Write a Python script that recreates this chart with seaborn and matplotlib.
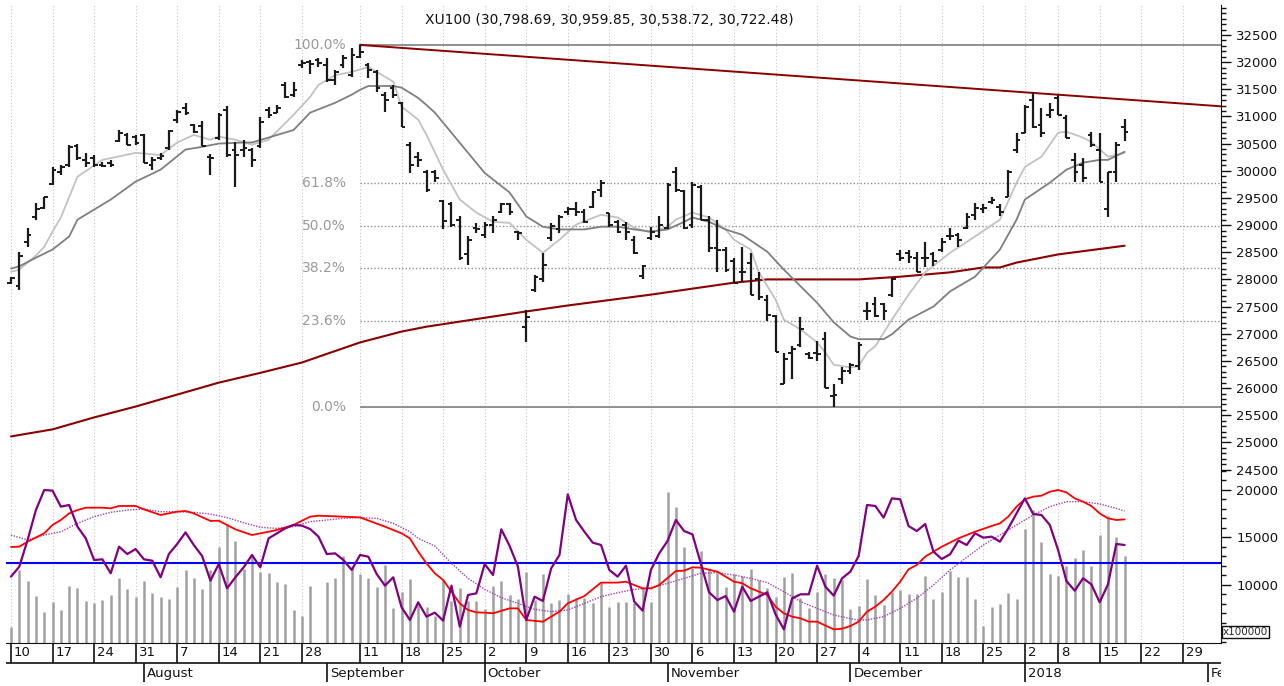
""" XU100 daily bar chart with volume panel """

import numpy as np
import pandas as pd
import matplotlib
matplotlib.use('Agg')
import matplotlib.pyplot as plt
import matplotlib.transforms as mtransforms
from matplotlib.ticker import MultipleLocator, FixedLocator
import seaborn as sns

# ---- data (x = trading-day index, 0 = 10 Jul 2017, 134 = 18 Jan 2018) ----
highs = [28050, 28510, 28950, 29410, 29520, 30060, 30110, 30480, 30500, 30330,
         30290, 30170, 30200, 30750, 30700, 30660, 30680, 30260, 30330, 30750,
         31120, 31250, 30860, 30920, 30310, 31070, 31190, 30530, 30570, 30420,
         30990, 31180, 31210, 31640, 31640, 32040, 32040, 32080, 32080, 31860,
         32130, 32260, 32316, 31980, 31860, 31450, 31580, 31270, 30530, 30350,
         30020, 30020, 29470, 29430, 29160, 28790, 29040, 29060, 29160, 29410,
         29410, 28900, 27430, 28090, 28490, 29040, 29190, 29340, 29430, 29290,
         29620, 29830, 29230, 29100, 29060, 28790, 28270, 28970, 29160, 29780,
         30060, 29650, 29800, 29740, 29160, 29100, 28600, 28400, 28600, 28490,
         28130, 27720, 27350, 26650, 26770, 27300, 26670, 26860, 27040, 26070,
         26380, 26470, 26840, 27590, 27670, 27570, 28030, 28550, 28550, 28510,
         28680, 28510, 28770, 28950, 28860, 29230, 29410, 29380, 29510, 29380,
         30020, 30700, 31210, 31450, 31160, 31250, 31400, 31030, 30330, 30240,
         30720, 30700, 29980, 30530, 30959.85]
lows = [27910, 27810, 28600, 29100, 29290, 29740, 29930, 30070, 30200, 30060,
        30070, 30060, 30070, 30530, 30480, 30480, 30150, 30020, 30200, 30390,
        30880, 31030, 30700, 30460, 29930, 30570, 30260, 29710, 30260, 30070,
        30420, 30980, 31070, 31340, 31360, 31890, 31780, 31910, 31640, 31580,
        31890, 31730, 32080, 31710, 31450, 31080, 31340, 30810, 29960, 30060,
        29600, 29800, 28920, 28970, 28360, 28270, 28860, 28770, 28860, 29230,
        29190, 28730, 26840, 27760, 27960, 28700, 28860, 29190, 29160, 29040,
        29320, 29510, 28970, 28860, 28730, 28460, 28000, 28730, 28770, 28920,
        29600, 28920, 28950, 29100, 28510, 28140, 28130, 27940, 27960, 27720,
        27630, 27230, 26670, 26070, 26160, 26750, 26530, 26490, 26010, 25660,
        26070, 26250, 26340, 27260, 27300, 27260, 27670, 28330, 28310, 28130,
        28220, 28240, 28510, 28730, 28600, 28920, 29100, 29230, 29380, 29160,
        29510, 30330, 30700, 30790, 30630, 30980, 31030, 30610, 29800, 29800,
        30440, 29800, 29140, 29800, 30538.72]
opens = [27940, 27870, 28680, 29140, 29320, 29760, 29980, 30110, 30460, 30200,
         30240, 30110, 30150, 30550, 30660, 30630, 30660, 30110, 30240, 30420,
         30940, 31160, 30850, 30830, 30260, 30610, 31120, 30390, 30390, 30390,
         30460, 31120, 31070, 31580, 31400, 31950, 32000, 32040, 31950, 31670,
         31950, 31760, 32100, 31950, 31820, 31400, 31530, 31250, 30480, 30260,
         29980, 29980, 29450, 29380, 29100, 28460, 28950, 28810, 29010, 29250,
         29380, 28880, 27120, 27810, 28000, 28770, 28920, 29250, 29290, 29250,
         29340, 29650, 29230, 29060, 29010, 28730, 28070, 28770, 28790, 28950,
         29980, 29620, 29010, 29710, 29100, 28580, 28550, 28330, 28130, 28310,
         28000, 27630, 27320, 26070, 26650, 26800, 26620, 26650, 26900, 25860,
         26160, 26310, 26400, 27410, 27540, 27540, 27720, 28460, 28490, 28400,
         28400, 28460, 28550, 28790, 28810, 28950, 29190, 29290, 29430, 29340,
         29510, 30390, 30700, 31300, 30850, 31030, 31340, 30980, 30200, 30110,
         30660, 30390, 29290, 29980, 30798.69]
closes = [28020, 28440, 28820, 29290, 29510, 30020, 30060, 30440, 30240, 30150,
          30110, 30090, 30110, 30700, 30480, 30520, 30150, 30200, 30280, 30740,
          31080, 31070, 30720, 30460, 30240, 31030, 30290, 30290, 30420, 30200,
          30900, 31030, 31160, 31360, 31490, 31980, 31970, 31980, 31670, 31820,
          32080, 32130, 32190, 31860, 31530, 31300, 31400, 30810, 30110, 30200,
          29650, 29870, 29080, 29010, 28400, 28730, 28920, 29010, 29100, 29380,
          29250, 28860, 27300, 28050, 28270, 28990, 29140, 29290, 29250, 29060,
          29600, 29780, 29010, 28880, 28880, 28490, 28240, 28880, 29010, 29740,
          29650, 28950, 29740, 29100, 28580, 28550, 28180, 27940, 28140, 27720,
          27670, 27340, 26670, 26530, 26710, 27080, 26560, 26620, 26010, 25880,
          26310, 26430, 26800, 27410, 27320, 27410, 28000, 28400, 28420, 28140,
          28400, 28330, 28680, 28790, 28730, 29140, 29320, 29320, 29470, 29250,
          29980, 30570, 31180, 30810, 30700, 31120, 31030, 30610, 29980, 29870,
          30480, 29800, 29980, 30480, 30722.48]

# moving averages at selected days
ma_fast_day = [0, 1, 3, 4, 5, 6, 8, 11, 15, 18, 20, 22, 24, 25, 27, 29, 31, 34, 36, 37,
               39, 41, 43, 44, 46, 47, 49, 50, 52, 54, 56, 58, 60, 62, 64, 66, 68, 71, 73, 75,
               77, 79, 80, 82, 84, 86, 87, 89, 90, 92, 93, 95, 97, 98, 99, 101, 102, 103, 104, 106,
               108, 110, 113, 116, 119, 121, 122, 124, 126, 127, 129, 130, 132, 133, 134]
ma_fast = [28140, 28180, 28440, 28600, 28880, 29140, 29890, 30200, 30330, 30290, 30520, 30660,
           30570, 30630, 30570, 30480, 30570, 31030, 31360, 31580, 31760, 31820, 31910, 31820,
           31640, 31180, 30940, 30660, 30020, 29470, 29230, 29060, 29040, 28730, 28490, 28730,
           29010, 29190, 29140, 28950, 28860, 28970, 29100, 29230, 29140, 28920, 28730, 28550,
           28130, 27630, 27260, 27080, 26840, 26650, 26430, 26380, 26400, 26650, 26770, 27260,
           27720, 28130, 28490, 28790, 29100, 29780, 30070, 30260, 30700, 30720, 30610, 30530,
           30260, 30290, 30330]
ma_slow_day = [0, 1, 3, 5, 7, 8, 12, 15, 18, 21, 23, 25, 28, 29, 34, 36, 39, 41, 42, 43,
               46, 47, 49, 50, 51, 53, 57, 60, 62, 64, 66, 69, 71, 73, 75, 77, 79, 81, 82, 84,
               86, 88, 91, 93, 97, 99, 101, 102, 105, 106, 108, 111, 113, 116, 119, 121, 122, 125,
               127, 129, 131, 132, 134]
ma_slow = [28200, 28240, 28400, 28550, 28790, 29100, 29470, 29800, 30020, 30390, 30440, 30500,
           30520, 30520, 30750, 31070, 31250, 31400, 31490, 31560, 31560, 31530, 31340, 31210,
           31070, 30700, 29960, 29600, 29160, 28970, 28920, 28920, 28970, 28970, 28920, 28880,
           28920, 29060, 29140, 29060, 28920, 28820, 28510, 28180, 27570, 27210, 26950, 26900,
           26900, 26990, 27260, 27500, 27780, 28050, 28550, 29100, 29470, 29780, 30020, 30150,
           30200, 30200, 30350]
ma200_day = [0, 5, 10, 15, 20, 25, 30, 35, 42, 47, 50, 62, 67, 77, 87, 91, 102, 107, 113, 117,
             119, 121, 126, 134]
ma200 = [25110, 25240, 25460, 25660, 25880, 26100, 26280, 26470, 26840, 27040, 27130, 27410,
         27520, 27720, 27940, 28000, 28000, 28050, 28130, 28220, 28220, 28310, 28460, 28620]

# trend line anchors (September high, January high)
trend_day = [42, 126]
trend_val = [32316, 31400]
fib_ratios = [0.0, 0.236, 0.382, 0.5, 0.618, 1.0]

# lower panel (x100000)
volume = [5610, 11580, 10420, 8840, 7190, 8250, 7370, 9930, 9720, 8320,
          8070, 8420, 8950, 10770, 9580, 8700, 10420, 9190, 8700, 8530,
          9820, 11580, 10700, 9580, 11580, 14030, 16420, 14670, 11680, 13160,
          11400, 11230, 10280, 10070, 7370, 6740, 9930, 3900, 10280, 10700,
          13050, 11930, 11160, 10770, 9820, 12100, 7610, 9300, 10630, 7890,
          7720, 6770, 10530, 8320, 9650, 8320, 8320, 7440, 9890, 10420,
          8950, 8530, 11400, 8420, 11160, 8070, 8420, 9050, 8600, 8670,
          8070, 10180, 7720, 8180, 8180, 8070, 9650, 8180, 12560, 19830,
          18250, 14040, 11760, 13620, 11650, 11300, 9830, 11160, 10950, 11690,
          10530, 9650, 8770, 10810, 11300, 8600, 7610, 9300, 11160, 10700,
          10530, 7440, 7790, 10630, 8950, 7890, 9230, 9470, 9050, 9050,
          10950, 8530, 9300, 11510, 10810, 10810, 8530, 5680, 7720, 7970,
          9120, 8530, 15900, 17900, 14560, 11160, 10950, 12040, 12810, 13690,
          12040, 15260, 17260, 15020, 13050]
oscillator = [10880, 11930, 14740, 17890, 20000, 19930, 18250, 18420, 16140, 14910,
              12630, 12700, 11230, 14030, 13260, 13790, 12700, 12560, 10810, 13260,
              14320, 15540, 14210, 13050, 10460, 12210, 9650, 10810, 11860, 13160,
              11860, 14910, 15440, 15960, 16320, 16250, 15890, 15090, 13260, 13330,
              12630, 11580, 13160, 12980, 11160, 9930, 10810, 7650, 6320, 8180,
              6670, 7090, 6250, 9930, 5610, 8950, 9120, 12210, 11050, 15860,
              14110, 11930, 6320, 8770, 8320, 11750, 13160, 19540, 16840, 15610,
              14460, 14210, 11580, 10880, 12030, 8250, 7300, 11580, 13330, 14630,
              16840, 15680, 15330, 12280, 9230, 8420, 8840, 7190, 9820, 8320,
              8770, 9230, 6910, 5330, 8600, 9020, 9020, 12030, 9820, 8880,
              10700, 11400, 13050, 18420, 18320, 17090, 19120, 19020, 16210, 15680,
              16420, 13510, 12740, 13230, 14670, 14210, 15440, 14980, 15090, 14560,
              15960, 17540, 19120, 17470, 17370, 16320, 13680, 10420, 9400, 10700,
              10070, 8180, 10070, 14320, 14210]
sig_red_day = [0, 1, 2, 4, 5, 6, 7, 8, 9, 11, 12, 13, 15, 16, 18, 20, 21, 22, 24, 25,
               27, 29, 31, 32, 34, 36, 37, 40, 42, 45, 47, 48, 49, 50, 51, 52, 53, 54, 55, 56,
               57, 58, 60, 61, 62, 64, 65, 66, 67, 69, 71, 73, 74, 76, 77, 78, 80, 81, 82, 83,
               85, 87, 88, 89, 90, 91, 92, 93, 94, 95, 96, 97, 99, 100, 101, 102, 103, 104, 105, 106,
               107, 108, 109, 110, 112, 114, 116, 118, 119, 120, 121, 122, 123, 124, 125, 126, 127, 128,
               129, 130, 131, 132, 133, 134]
sig_red = [14000, 14035, 14560, 15440, 16320, 16840, 17540, 17890, 18140, 18140, 18070, 18320,
           18320, 17960, 17370, 17720, 17790, 17540, 16740, 16770, 15860, 15260, 15610, 15790,
           16320, 17190, 17300, 17190, 17120, 16140, 15440, 14910, 13510, 12280, 11230, 10530,
           9300, 8070, 7370, 7120, 7090, 7020, 7540, 7540, 6320, 6140, 6670, 7190, 8070, 8840,
           10250, 10250, 10350, 9650, 9650, 10000, 11470, 11510, 11860, 11820, 11400, 10350,
           10180, 9650, 9300, 8950, 7720, 7020, 6670, 6490, 6140, 6140, 5330, 5400, 5680, 6140,
           7190, 7720, 8420, 9300, 10350, 11650, 12110, 12980, 14030, 14910, 15610, 16210,
           16490, 17190, 18250, 19020, 19300, 19400, 19820, 20000, 19750, 19120, 18770, 18320,
           17540, 17020, 16840, 16910]
sig_dot_day = [0, 2, 4, 6, 8, 10, 12, 14, 16, 18, 20, 22, 24, 26, 28, 30, 32, 34, 36, 38,
               40, 42, 44, 46, 48, 49, 51, 53, 55, 57, 59, 61, 63, 65, 67, 69, 71, 73, 75, 77,
               79, 81, 83, 85, 87, 89, 91, 93, 95, 97, 99, 101, 102, 103, 105, 107, 109, 111, 113, 115,
               117, 119, 121, 123, 125, 127, 129, 131, 133, 134]
sig_dot = [15260, 14740, 15260, 15610, 16490, 17190, 17650, 17890, 18000, 17720, 17720, 17650,
           17470, 17090, 16560, 16070, 15960, 16140, 16670, 16840, 17020, 17090, 17020, 16490,
           15610, 14910, 14100, 12280, 10700, 9540, 8670, 8070, 7440, 7190, 7370, 8070, 8770,
           9190, 9540, 9650, 10180, 10700, 11230, 11300, 11050, 10700, 10250, 9300, 8250, 7540,
           6840, 6460, 6320, 6320, 6670, 7540, 8600, 10000, 11580, 12910, 14210, 15260, 16320,
           17370, 18250, 18770, 18770, 18530, 18070, 17790]
ref_level = 12300

# axis labels
price_ticks = [24500, 25000, 25500, 26000, 26500, 27000, 27500, 28000, 28500,
               29000, 29500, 30000, 30500, 31000, 31500, 32000, 32500]
week_pos = [0, 5, 10, 15, 20, 25, 30, 35, 42, 47, 52, 57, 62, 67, 72, 77, 82, 87, 92, 97,
            102, 107, 112, 117, 122, 126, 131, 136, 141]
week_labels = ['10', '17', '24', '31', '7', '14', '21', '28', '11', '18', '25', '2', '9', '16',
               '23', '30', '6', '13', '20', '27', '4', '11', '18', '25', '2', '8', '15', '22', '29']
month_pos = [16, 38, 57, 79, 101, 122, 144]
month_labels = ['August', 'September', 'October', 'November', 'December', '2018', 'February']
title = 'XU100 (30,798.69, 30,959.85, 30,538.72, 30,722.48)'

# ---- style ----
sns.set_style('white')
plt.rcParams['font.family'] = ['DejaVu Sans']
GRID = '#c4c4c4'
FIB = '#909090'

x = np.arange(len(closes))
XMIN, XMAX = -0.6, 145.6

fig = plt.figure(figsize=(12.84, 6.86), dpi=100)
L, W = 6 / 1284, 1215 / 1284
ax = fig.add_axes([L, 1 - 470 / 686, W, 465 / 686])
axv = fig.add_axes([L, 1 - 643 / 686, W, 173 / 686], sharex=ax)
axd = fig.add_axes([L, 0, W, 43 / 686], sharex=ax)

for a in (ax, axv):
    for p in week_pos:
        a.axvline(p, color=GRID, lw=0.8, ls=(0, (1, 2)), zorder=0)
    a.yaxis.tick_right()
    a.tick_params(axis='y', which='major', direction='out', length=7, width=1,
                  pad=4, labelsize=9.5, colors='#111')
    a.tick_params(axis='y', which='minor', direction='out', length=3.5, width=1, colors='#111')
    a.tick_params(axis='x', which='both', bottom=False, labelbottom=False)
    for s in ('left', 'top'):
        a.spines[s].set_visible(False)
    a.spines['right'].set_color('#111')

# ---- price panel ----
hi, lo = max(highs), min(lows)
i_hi = int(np.argmax(highs))
for r in fib_ratios:
    lvl = lo + r * (hi - lo)
    solid = r in (0.0, 1.0)
    ax.hlines(lvl, i_hi, XMAX, color=FIB, lw=1.4 if solid else 1.0,
              ls='-' if solid else (0, (1, 1.5)), zorder=1)
    ax.text(i_hi - 1.7, lvl, f'{r * 100:.1f}%', ha='right', va='center',
            fontsize=10, color='#999999')

slope = (trend_val[1] - trend_val[0]) / (trend_day[1] - trend_day[0])
ax.plot([trend_day[0], XMAX], [trend_val[0], trend_val[0] + slope * (XMAX - trend_day[0])],
        color='#8b0000', lw=1.4, zorder=2)

sns.lineplot(x=ma200_day, y=ma200, ax=ax, color='#8b0000', lw=1.5, zorder=2)
sns.lineplot(x=ma_fast_day, y=ma_fast, ax=ax, color='#c2c2c2', lw=1.3, zorder=3)
sns.lineplot(x=ma_slow_day, y=ma_slow, ax=ax, color='#7f7f7f', lw=1.3, zorder=3)

ax.vlines(x, lows, highs, color='#1a1a1a', lw=1.6, zorder=4)
ax.hlines(opens, x - 0.45, x, color='#1a1a1a', lw=1.4, zorder=4)
ax.hlines(closes, x, x + 0.45, color='#1a1a1a', lw=1.4, zorder=4)

ax.set_xlim(XMIN, XMAX)
ax.set_ylim(24492, 33051)
ax.yaxis.set_major_locator(FixedLocator(price_ticks))
ax.yaxis.set_minor_locator(MultipleLocator(100))
ax.spines['bottom'].set_visible(False)
ax.set_xlabel('')
ax.set_ylabel('')

fig.text(425 / 1284, 1 - 20 / 686, title, fontsize=10, va='center', ha='left', color='#111')

# ---- volume panel ----
axv.vlines(x, 0, volume, color='#a0a0a0', lw=1.8, zorder=1)
axv.axhline(ref_level, color='#0000ff', lw=1.5, zorder=2)
sns.lineplot(x=sig_dot_day, y=sig_dot, ax=axv, color='#a040b0', lw=1.0, ls=(0, (1, 1)), zorder=3)
sns.lineplot(x=sig_red_day, y=sig_red, ax=axv, color='#ff0000', lw=1.3, zorder=3)
sns.lineplot(x=x, y=oscillator, ax=axv, color='#800080', lw=1.6, zorder=4)
axv.set_ylim(3894, 22105)
axv.yaxis.set_major_locator(MultipleLocator(5000))
axv.yaxis.set_minor_locator(MultipleLocator(1000))
axv.spines['bottom'].set_color('#111')
axv.set_xlabel('')
axv.set_ylabel('')
tr = mtransforms.blended_transform_factory(axv.transAxes, axv.transData)
axv.text(1.0015, 5050, 'x100000', transform=tr, ha='left', va='center', fontsize=7.5,
         zorder=10, clip_on=False,
         bbox=dict(boxstyle='square,pad=0.12', fc='white', ec='#111', lw=1))

# ---- date strip ----
axd.set_ylim(0, 43)
axd.axis('off')
axd.axhline(23, color='#111', lw=1.2)
axd.vlines(week_pos, 23, 43, color='#111', lw=1.2)
for p, lab in zip(week_pos, week_labels):
    axd.text(p + 0.35, 33, lab, ha='left', va='center', fontsize=9.5, color='#111', clip_on=True)
axd.vlines(month_pos, 4, 23, color='#111', lw=1.2)
for p, lab in zip(month_pos, month_labels):
    axd.text(p + 0.35, 12.5, lab, ha='left', va='center', fontsize=9.5, color='#111', clip_on=True)

fig.savefig('out.png', dpi=100)
